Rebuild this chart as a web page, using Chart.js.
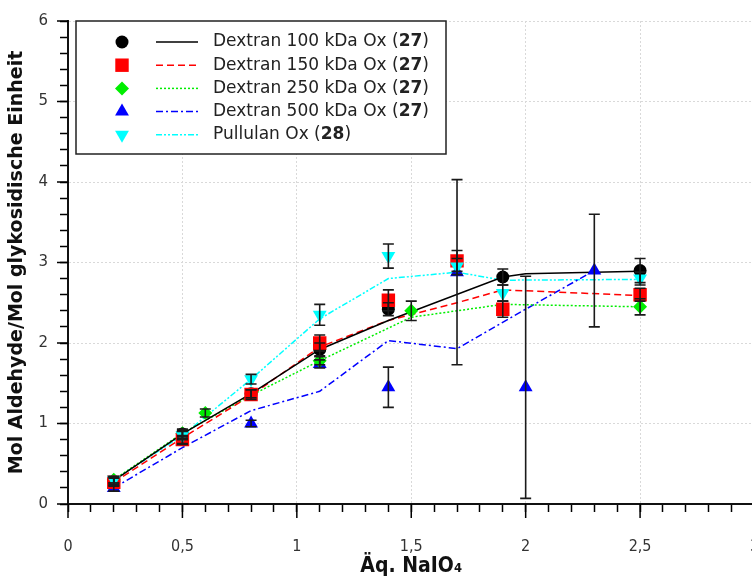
<!DOCTYPE html>
<html>
<head>
<meta charset="utf-8">
<script src="https://cdn.jsdelivr.net/npm/chart.js@4.4.1/dist/chart.umd.min.js"></script>
<style>
  html, body { margin: 0; padding: 0; overflow: hidden; background: #fff; }
  #wrap { width: 764px; height: 579px; }
</style>
</head>
<body>
<div id="wrap"><canvas id="chart"></canvas></div>
<script>
// axis labels
const xMajor = [0, 0.5, 1, 1.5, 2, 2.5, 3];
const yMajor = [0, 1, 2, 3, 4, 5, 6];

const seriesNames = ['Dextran 100 kDa Ox', 'Dextran 150 kDa Ox', 'Dextran 250 kDa Ox', 'Dextran 500 kDa Ox', 'Pullulan Ox'];
const seriesRefs = ['27', '27', '27', '27', '28'];

// measured points (mean +- error)
const d100X = [0.2, 0.5, 0.8, 1.1, 1.4, 1.9, 2.5];
const d100Y = [0.28, 0.87, 1.37, 1.92, 2.42, 2.82, 2.9];
const d100Err = [0.05, 0.06, 0.05, 0.08, 0.08, 0.1, 0.15];

const d150X = [0.2, 0.5, 0.8, 1.1, 1.4, 1.7, 1.9, 2.5];
const d150Y = [0.27, 0.8, 1.36, 2.0, 2.53, 3.02, 2.42, 2.6];
const d150Err = [0.05, 0.05, 0.06, 0.1, 0.13, 0.13, 0.1, 0.08];

const d250X = [0.2, 0.5, 0.6, 1.1, 1.5, 2.5];
const d250Y = [0.3, 0.88, 1.13, 1.78, 2.4, 2.45];
const d250Err = [0.04, 0.04, 0.05, 0.05, 0.12, 0.1];

const d500X = [0.2, 0.5, 0.8, 1.1, 1.4, 1.7, 2.0, 2.3];
const d500Y = [0.2, 0.78, 1.0, 1.74, 1.45, 2.88, 1.45, 2.9];
const d500Err = [0.04, 0.04, 0.04, 0.05, 0.25, 1.15, 1.38, 0.7];

const pullX = [0.2, 0.5, 0.8, 1.1, 1.4, 1.7, 1.9, 2.5];
const pullY = [0.3, 0.85, 1.55, 2.35, 3.08, 2.95, 2.62, 2.8];
const pullErr = [0.04, 0.05, 0.06, 0.13, 0.15, 0.1, 0.1, 0.08];

// trend lines
const d100LineX = [0.2, 0.5, 0.8, 1.1, 1.4, 1.9, 2.0, 2.5];
const d100LineY = [0.29, 0.87, 1.37, 1.92, 2.28, 2.82, 2.86, 2.89];
const d150LineX = [0.2, 0.5, 0.8, 1.1, 1.4, 1.7, 1.9, 2.5];
const d150LineY = [0.27, 0.82, 1.35, 1.95, 2.28, 2.5, 2.66, 2.59];
const d250LineX = [0.2, 0.5, 0.8, 1.1, 1.5, 1.9, 2.5];
const d250LineY = [0.3, 0.88, 1.35, 1.78, 2.32, 2.48, 2.45];
const d500LineX = [0.2, 0.5, 0.8, 1.1, 1.4, 1.7, 2.0, 2.3];
const d500LineY = [0.2, 0.7, 1.16, 1.4, 2.03, 1.93, 2.42, 2.9];
const pullLineX = [0.2, 0.5, 0.8, 1.1, 1.4, 1.7, 1.9, 2.5];
const pullLineY = [0.3, 0.85, 1.55, 2.3, 2.8, 2.88, 2.78, 2.79];

const series = [
  { x: d100X, y: d100Y, err: d100Err, lx: d100LineX, ly: d100LineY, color: '#000000', style: 'circle', radius: 6.5, rot: 0, dash: [], order: 3 },
  { x: d150X, y: d150Y, err: d150Err, lx: d150LineX, ly: d150LineY, color: '#ff0000', style: 'rect', radius: 9.5, rot: 0, dash: [7, 4], order: 2 },
  { x: d250X, y: d250Y, err: d250Err, lx: d250LineX, ly: d250LineY, color: '#00ee00', style: 'rectRot', radius: 7, rot: 0, dash: [2, 2], order: 4 },
  { x: d500X, y: d500Y, err: d500Err, lx: d500LineX, ly: d500LineY, color: '#0000ff', style: 'triangle', radius: 8, rot: 0, dash: [7, 3, 2, 3], order: 5 },
  { x: pullX, y: pullY, err: pullErr, lx: pullLineX, ly: pullLineY, color: '#00ffff', style: 'triangle', radius: 8, rot: 180, dash: [6, 2, 2, 2, 2, 2], order: 1 }
];

const pts = (xs, ys) => xs.map((v, i) => ({ x: v, y: ys[i] }));
const near = (v, list) => list.some(m => Math.abs(m - v) < 1e-6);

const datasets = [];
series.forEach((s, i) => {
  datasets.push({
    label: seriesNames[i] + ' line',
    data: pts(s.lx, s.ly),
    showLine: true,
    borderColor: s.color,
    borderWidth: 1.5,
    borderDash: s.dash,
    pointRadius: 0,
    order: 10 + i
  });
  datasets.push({
    label: seriesNames[i],
    data: pts(s.x, s.y),
    showLine: false,
    pointStyle: s.style,
    pointRadius: s.radius,
    pointRotation: s.rot,
    backgroundColor: s.color,
    borderColor: s.color,
    borderWidth: 0,
    order: s.order
  });
});

const errorBars = {
  id: 'errorBars',
  afterDatasetsDraw(chart) {
    const { ctx, scales: { x, y } } = chart;
    ctx.save();
    ctx.strokeStyle = '#1a1a1a';
    ctx.lineWidth = 1.6;
    series.forEach(s => {
      s.x.forEach((xv, i) => {
        const px = x.getPixelForValue(xv);
        const top = y.getPixelForValue(s.y[i] + s.err[i]);
        const bot = y.getPixelForValue(s.y[i] - s.err[i]);
        ctx.beginPath();
        ctx.moveTo(px, top); ctx.lineTo(px, bot);
        ctx.moveTo(px - 5.5, top); ctx.lineTo(px + 5.5, top);
        ctx.moveTo(px - 5.5, bot); ctx.lineTo(px + 5.5, bot);
        ctx.stroke();
      });
    });
    ctx.restore();
  }
};

const majorTicks = {
  id: 'majorTicks',
  afterDraw(chart) {
    const { ctx, chartArea, scales: { x, y } } = chart;
    ctx.save();
    ctx.strokeStyle = '#000';
    ctx.lineWidth = 1.5;
    xMajor.forEach(v => {
      const px = x.getPixelForValue(v);
      ctx.beginPath(); ctx.moveTo(px, chartArea.bottom); ctx.lineTo(px, chartArea.bottom + 14); ctx.stroke();
    });
    yMajor.forEach(v => {
      const py = y.getPixelForValue(v);
      ctx.beginPath(); ctx.moveTo(chartArea.left, py); ctx.lineTo(chartArea.left - 11, py); ctx.stroke();
    });
    ctx.restore();
  }
};

const legendBox = {
  id: 'legendBox',
  afterDraw(chart) {
    const ctx = chart.ctx;
    ctx.save();
    ctx.fillStyle = '#fff';
    ctx.fillRect(76, 21, 370, 133);
    ctx.strokeStyle = '#222';
    ctx.lineWidth = 1.5;
    ctx.strokeRect(76, 21, 370, 133);
    const normal = '17px "DejaVu Sans"';
    const bold = 'bold 17px "DejaVu Sans"';
    series.forEach((s, i) => {
      const ry = 42 + i * 23.2;
      ctx.fillStyle = s.color;
      ctx.strokeStyle = s.color;
      Chart.helpers.drawPoint(ctx, { pointStyle: s.style, radius: s.radius, rotation: s.rot, borderWidth: 0 }, 122, ry);
      ctx.beginPath();
      ctx.setLineDash(s.dash);
      ctx.lineWidth = 1.5;
      ctx.moveTo(156, ry); ctx.lineTo(198, ry);
      ctx.stroke();
      ctx.setLineDash([]);
      ctx.fillStyle = '#222';
      ctx.textBaseline = 'middle';
      let tx = 213;
      const a = seriesNames[i] + ' (';
      ctx.font = normal; ctx.fillText(a, tx, ry); tx += ctx.measureText(a).width;
      ctx.font = bold; ctx.fillText(seriesRefs[i], tx, ry); tx += ctx.measureText(seriesRefs[i]).width;
      ctx.font = normal; ctx.fillText(')', tx, ry);
    });
    ctx.restore();
  }
};

Chart.defaults.font.family = '"DejaVu Sans"';

new Chart(document.getElementById('chart'), {
  type: 'scatter',
  data: { datasets },
  options: {
    responsive: true,
    maintainAspectRatio: false,
    animation: false,
    layout: { padding: { top: 20, left: 0, right: 0, bottom: 0 } },
    plugins: { legend: { display: false }, tooltip: { enabled: false } },
    scales: {
      x: {
        type: 'linear',
        min: 0, max: 3,
        afterFit: s => { s.height = 75; s.paddingRight = 4; s.paddingLeft = 0; },
        ticks: {
          stepSize: 0.1,
          autoSkip: false,
          maxRotation: 0,
          padding: 25,
          color: '#333',
          font: { family: '"DejaVu Sans Condensed"', size: 16 },
          callback: v => near(v, xMajor) ? String(Math.round(v * 10) / 10).replace('.', ',') : ''
        },
        grid: {
          color: c => (c.tick && near(c.tick.value, xMajor) && c.tick.value > 0) ? '#d9d9d9' : 'rgba(0,0,0,0)',
          tickColor: '#000',
          tickLength: 8,
          tickWidth: 1.5
        },
        border: { color: '#111', width: 2, dash: [2, 2] },
        title: {
          display: true,
          text: 'Äq. NaIO₄',
          color: '#111',
          font: { family: '"DejaVu Sans Condensed"', size: 21, weight: 'bold' },
          padding: { top: 0, bottom: 0 }
        }
      },
      y: {
        min: 0, max: 6,
        afterFit: s => { s.width = 68; },
        ticks: {
          stepSize: 0.2,
          autoSkip: false,
          padding: 12,
          color: '#333',
          font: { size: 15 },
          callback: v => near(v, yMajor) ? String(Math.round(v)) : ''
        },
        grid: {
          color: c => (c.tick && near(c.tick.value, yMajor) && c.tick.value > 0) ? '#d9d9d9' : 'rgba(0,0,0,0)',
          tickColor: '#000',
          tickLength: 8,
          tickWidth: 1.5
        },
        border: { color: '#111', width: 2, dash: [2, 2] },
        title: {
          display: true,
          text: 'Mol Aldehyde/Mol glykosidische Einheit',
          color: '#111',
          font: { size: 19, weight: 'bold' },
          padding: { top: 6, bottom: 0 }
        }
      }
    }
  },
  plugins: [errorBars, majorTicks, legendBox]
});
</script>
</body>
</html>
